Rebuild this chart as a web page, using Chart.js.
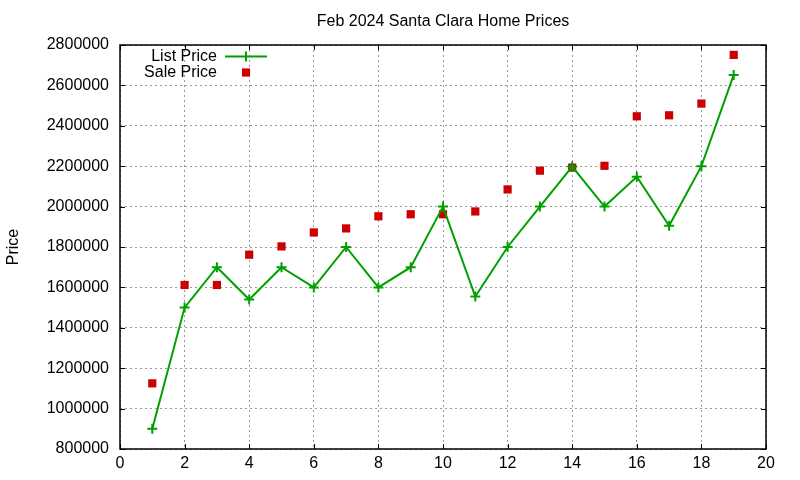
<!DOCTYPE html>
<html>
<head>
<meta charset="utf-8">
<script src="https://cdn.jsdelivr.net/npm/chart.js@4.4.1/dist/chart.umd.min.js"></script>
<style>
    html, body { margin: 0; padding: 0; background: #fff; }
    #wrap { width: 800px; height: 480px; }
</style>
</head>
<body>
<div id="wrap"><canvas id="priceChart" width="800" height="480"></canvas></div>
<script>
// data
const houses = [1, 2, 3, 4, 5, 6, 7, 8, 9, 10, 11, 12, 13, 14, 15, 16, 17, 18, 19];
const listPrices = [900000, 1500000, 1700000, 1540000, 1700000, 1600000, 1800000, 1600000, 1700000, 2000000,
    1555000, 1800000, 2000000, 2198000, 2000000, 2148000, 1905000, 2200000, 2652000];
const salePrices = [1125000, 1612000, 1612000, 1762000, 1803000, 1872000, 1892000, 1952000, 1962000, 1962000,
    1976000, 2085000, 2178000, 2193000, 2202000, 2447000, 2452000, 2510000, 2751000];
const xTicks = [0, 2, 4, 6, 8, 10, 12, 14, 16, 18, 20];
const yTicks = [800000, 1000000, 1200000, 1400000, 1600000, 1800000, 2000000, 2200000, 2400000, 2600000, 2800000];

const FONT = '"Liberation Sans", Arial, sans-serif';
const GREEN = '#00a000';
const RED = '#cc0000';

// gnuplot style frame: border + inward ticks on all four sides
const framePlugin = {
    id: 'frame',
    afterDatasetsDraw(chart) {
        const ctx = chart.ctx;
        const a = chart.chartArea;
        const xs = chart.scales.x;
        const ys = chart.scales.y;
        const len = 5;
        ctx.save();
        ctx.strokeStyle = '#000';
        ctx.lineWidth = 1;
        ctx.beginPath();
        xs.ticks.forEach(function(t){
            let px = Math.round(xs.getPixelForValue(t.value)) + 0.5;
            ctx.moveTo(px, a.bottom); ctx.lineTo(px, a.bottom - len);
            ctx.moveTo(px, a.top); ctx.lineTo(px, a.top + len);
        });
        ys.ticks.forEach(function(t){
            let py = Math.round(ys.getPixelForValue(t.value)) + 0.5;
            ctx.moveTo(a.left, py); ctx.lineTo(a.left + len, py);
            ctx.moveTo(a.right, py); ctx.lineTo(a.right - len, py);
        });
        ctx.stroke();
        ctx.lineWidth = 1.5;
        ctx.strokeRect(Math.round(a.left), Math.round(a.top), Math.round(a.right - a.left), Math.round(a.bottom - a.top));
        ctx.restore();
    }
};

// key in the top-left corner, text right aligned like gnuplot
const keyPlugin = {
    id: 'key',
    afterDraw(chart) {
        const ctx = chart.ctx;
        const a = chart.chartArea;
        const textRight = a.left + 97;
        const markX = a.left + 126;
        ctx.save();
        ctx.font = '16px ' + FONT;
        ctx.textAlign = 'right';
        ctx.textBaseline = 'middle';
        chart.data.datasets.forEach(function(ds, i){
            let y = a.top + 11.5 + i * 16;
            ctx.fillStyle = '#000';
            ctx.fillText(ds.label, textRight, y);
            ctx.fillStyle = ds.pointBackgroundColor;
            ctx.strokeStyle = ds.pointBorderColor;
            ctx.lineWidth = 2;
            ctx.beginPath();
            if(ds.showLine){
                ctx.moveTo(a.left + 105, y); ctx.lineTo(a.left + 147, y);
            }
            if(ds.pointStyle === 'rect'){
                let s = Math.SQRT1_2 * ds.pointRadius;
                ctx.fillRect(markX - s, y - s, 2 * s, 2 * s);
            } else {
                ctx.moveTo(markX, y - ds.pointRadius); ctx.lineTo(markX, y + ds.pointRadius);
            }
            ctx.stroke();
        });
        ctx.restore();
    }
};

let ctx = document.getElementById('priceChart').getContext('2d');
let priceChart = new Chart(ctx, {
    type: 'line',
    data: {
        datasets: [{
            label: 'List Price',
            data: houses.map(function(h, i){ return { x: h, y: listPrices[i] }; }),
            showLine: true,
            borderColor: GREEN,
            borderWidth: 2,
            pointStyle: 'cross',
            pointRadius: 5,
            pointHoverRadius: 5,
            pointBorderWidth: 2,
            pointBorderColor: GREEN,
            pointBackgroundColor: GREEN,
            tension: 0,
            fill: false
        }, {
            label: 'Sale Price',
            data: houses.map(function(h, i){ return { x: h, y: salePrices[i] }; }),
            showLine: false,
            borderColor: RED,
            pointStyle: 'rect',
            pointRadius: 5.8,
            pointHoverRadius: 5.8,
            pointBorderWidth: 0,
            pointBorderColor: RED,
            pointBackgroundColor: RED,
            fill: false
        }]
    },
    options: {
        responsive: false,
        animation: false,
        events: [],
        layout: {
            padding: { left: 0, right: 34, top: 0, bottom: 0 }
        },
        plugins: {
            legend: { display: false },
            tooltip: { enabled: false },
            title: {
                display: true,
                fullSize: false,
                text: 'Feb 2024 Santa Clara Home Prices',
                color: '#000',
                padding: { top: 12, bottom: 13.8 },
                font: { family: FONT, size: 16, weight: 'normal' }
            }
        },
        scales: {
            x: {
                type: 'linear',
                min: 0,
                max: 20,
                afterBuildTicks(scale) {
                    scale.ticks = xTicks.map(function(v){ return { value: v }; });
                },
                afterFit(scale) {
                    scale.height = 31;
                },
                grid: {
                    color: '#999999',
                    lineWidth: 1,
                    drawTicks: false
                },
                border: { display: false, dash: [2, 3] },
                ticks: {
                    color: '#000',
                    padding: 5,
                    maxRotation: 0,
                    autoSkip: false,
                    font: { family: FONT, size: 16 },
                    callback: function(v){ return String(v); }
                }
            },
            y: {
                type: 'linear',
                min: 800000,
                max: 2800000,
                afterBuildTicks(scale) {
                    scale.ticks = yTicks.map(function(v){ return { value: v }; });
                },
                afterFit(scale) {
                    scale.width = 120;
                },
                grid: {
                    color: '#999999',
                    lineWidth: 1,
                    drawTicks: false
                },
                border: { display: false, dash: [2, 3] },
                title: {
                    display: true,
                    text: 'Price',
                    color: '#000',
                    padding: { top: 4, bottom: 0 },
                    font: { family: FONT, size: 16 }
                },
                ticks: {
                    color: '#000',
                    padding: 11,
                    autoSkip: false,
                    font: { family: FONT, size: 16 },
                    callback: function(v){ return String(v); }
                }
            }
        }
    },
    plugins: [framePlugin, keyPlugin]
});
</script>
</body>
</html>
